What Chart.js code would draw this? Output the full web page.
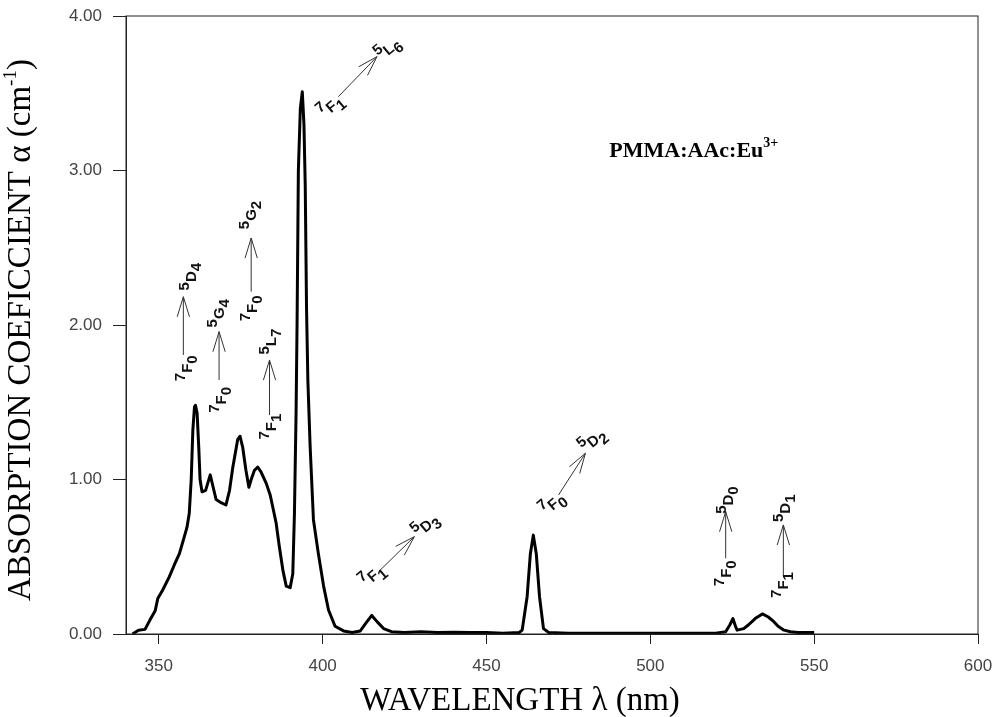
<!DOCTYPE html>
<html>
<head>
<meta charset="utf-8">
<script src="https://cdn.jsdelivr.net/npm/chart.js@4.4.1/dist/chart.umd.min.js"></script>
<style>
  html, body { margin: 0; padding: 0; background: #fff; }
  #chart { display: block; }
</style>
</head>
<body>
<canvas id="chart" width="996" height="717"></canvas>
<script>
// absorption spectrum
const wavelength = [
  342.0, 343.8, 345.8, 347.3, 348.9, 349.7, 351.2, 353.2, 354.8, 356.3,
  357.8, 358.6, 359.3, 359.9, 360.4, 360.9, 361.2, 361.7, 362.2, 362.6,
  363.2, 364.3, 365.7, 366.6, 367.5, 369.0, 370.5, 371.6, 372.6, 374.1,
  374.8, 375.6, 376.6, 377.5, 378.2, 379.2, 380.2, 381.2, 382.8, 384.0,
  384.8, 385.8, 386.8, 387.9, 388.9, 390.1, 390.9, 391.4, 391.9, 392.2,
  392.6, 393.2, 393.8, 394.3, 394.7, 395.1, 395.5, 396.2, 397.2, 398.7,
  400.3, 401.8, 403.8, 406.4, 409.0, 411.5, 413.2, 415.0, 416.6, 418.6,
  421.0, 425.0, 430.0, 435.0, 440.0, 445.0, 450.0, 455.0, 460.0, 460.9,
  462.4, 463.4, 464.3, 465.2, 466.2, 467.4, 469.0, 475.0, 490.0, 505.0,
  520.0, 523.0, 524.3, 525.2, 526.0, 526.5, 528.5, 530.0, 532.0, 534.2,
  536.0, 537.7, 539.0, 540.8, 542.8, 545.0, 550.0
];
const absorption = [
  0.00, 0.025, 0.03, 0.09, 0.15, 0.23, 0.285, 0.37, 0.45, 0.52,
  0.63, 0.69, 0.78, 1.00, 1.32, 1.47, 1.48, 1.43, 1.21, 1.00,
  0.92, 0.93, 1.03, 0.95, 0.87, 0.85, 0.835, 0.93, 1.08, 1.26,
  1.28, 1.21, 1.06, 0.95, 1.00, 1.06, 1.08, 1.05, 0.975, 0.90,
  0.82, 0.72, 0.565, 0.41, 0.31, 0.30, 0.39, 0.78, 1.43, 2.00,
  3.00, 3.40, 3.51, 3.30, 2.90, 2.10, 1.64, 1.21, 0.74, 0.52,
  0.31, 0.155, 0.05, 0.02, 0.01, 0.02, 0.07, 0.12, 0.08, 0.035,
  0.015, 0.01, 0.015, 0.01, 0.012, 0.01, 0.01, 0.005, 0.01, 0.025,
  0.24, 0.52, 0.64, 0.52, 0.24, 0.035, 0.01, 0.005, 0.005, 0.005,
  0.005, 0.015, 0.06, 0.10, 0.05, 0.025, 0.035, 0.06, 0.10, 0.13,
  0.11, 0.08, 0.05, 0.025, 0.015, 0.01, 0.01
];
const xTicks = [350, 400, 450, 500, 550, 600];
const yTicks = [0, 1, 2, 3, 4];

// Eu3+ transitions: [sup, letter, sub] labels, arrow tail/tip and label anchors (data units)
const transitions = [
  { low: ["7", "F", "0"], up: ["5", "D", "4"], tail: [357.5, 1.806], tip: [357.5, 2.183], lowAt: [359.0, 1.720], upAt: [360.1, 2.313], angle: -90 },
  { low: ["7", "F", "0"], up: ["5", "G", "4"], tail: [368.4, 1.644], tip: [368.4, 1.957], lowAt: [369.2, 1.515], upAt: [368.7, 2.076], angle: -90 },
  { low: ["7", "F", "0"], up: ["5", "G", "2"], tail: [378.2, 2.216], tip: [378.2, 2.563], lowAt: [378.7, 2.108], upAt: [378.4, 2.712], angle: -90 },
  { low: ["7", "F", "1"], up: ["5", "L", "7"], tail: [383.8, 1.417], tip: [383.8, 1.773], lowAt: [384.5, 1.342], upAt: [384.5, 1.892], angle: -90 },
  { low: ["7", "F", "1"], up: ["5", "L", "6"], tail: [404.8, 3.478], tip: [416.6, 3.737], lowAt: [402.8, 3.409], upAt: [420.3, 3.780], angle: -40 },
  { low: ["7", "F", "1"], up: ["5", "D", "3"], tail: [417.6, 0.414], tip: [428.0, 0.630], lowAt: [415.5, 0.371], upAt: [431.8, 0.695], angle: -40 },
  { low: ["7", "F", "0"], up: ["5", "D", "2"], tail: [472.0, 0.900], tip: [480.2, 1.170], lowAt: [470.5, 0.835], upAt: [482.7, 1.245], angle: -40 },
  { low: ["7", "F", "0"], up: ["5", "D", "0"], tail: [523.0, 0.490], tip: [523.0, 0.792], lowAt: [523.3, 0.393], upAt: [524.0, 0.867], angle: -90 },
  { low: ["7", "F", "1"], up: ["5", "D", "1"], tail: [540.6, 0.371], tip: [540.6, 0.706], lowAt: [540.8, 0.317], upAt: [541.3, 0.814], angle: -90 }
];

const sansFont = '"Liberation Sans", Arial, sans-serif';
const serifFont = '"Liberation Serif", "Times New Roman", serif';
const labelFont = "bold 15px " + sansFont;

// draw a run of text pieces on one rotated baseline
function drawParts(ctx, px, py, angle, parts, anchor, baseline) {
  ctx.save();
  ctx.translate(px, py);
  ctx.rotate(angle * Math.PI / 180);
  ctx.textAlign = "left";
  ctx.textBaseline = baseline;
  const widths = parts.map(p => { ctx.font = p.font; return ctx.measureText(p.t).width; });
  const total = widths.reduce((a, b) => a + b, 0);
  let pos;
  if (anchor === "center") pos = -total / 2;
  else if (anchor === "left") pos = 0;
  else pos = -widths.slice(0, anchor).reduce((a, b) => a + b, 0) - widths[anchor] / 2;
  parts.forEach((p, i) => {
    ctx.font = p.font;
    ctx.fillText(p.t, pos, p.dy || 0);
    pos += widths[i];
  });
  ctx.restore();
}

function termParts(arr) {
  return [
    { t: arr[0], font: labelFont, dy: -7 },
    { t: arr[1], font: labelFont, dy: 0 },
    { t: arr[2], font: labelFont, dy: 5 }
  ];
}

function drawArrow(ctx, x0, y0, x1, y1) {
  const ang = Math.atan2(y1 - y0, x1 - x0);
  const len = 21, spread = 17 * Math.PI / 180;
  ctx.beginPath();
  ctx.moveTo(x0, y0);
  ctx.lineTo(x1, y1);
  ctx.moveTo(x1 - len * Math.cos(ang - spread), y1 - len * Math.sin(ang - spread));
  ctx.lineTo(x1, y1);
  ctx.lineTo(x1 - len * Math.cos(ang + spread), y1 - len * Math.sin(ang + spread));
  ctx.stroke();
}

const overlay = {
  id: "overlay",
  afterDraw(chart) {
    const { ctx, chartArea: a, scales: { x, y } } = chart;
    ctx.save();
    ctx.strokeStyle = "#222";
    ctx.lineWidth = 1;
    ctx.strokeRect(a.left, a.top, a.right - a.left, a.bottom - a.top);

    ctx.fillStyle = "#111";
    ctx.strokeStyle = "#333";
    transitions.forEach(tr => {
      drawArrow(ctx, x.getPixelForValue(tr.tail[0]), y.getPixelForValue(tr.tail[1]),
        x.getPixelForValue(tr.tip[0]), y.getPixelForValue(tr.tip[1]));
      drawParts(ctx, x.getPixelForValue(tr.lowAt[0]), y.getPixelForValue(tr.lowAt[1]), tr.angle, termParts(tr.low), 1, "middle");
      drawParts(ctx, x.getPixelForValue(tr.upAt[0]), y.getPixelForValue(tr.upAt[1]), tr.angle, termParts(tr.up), 1, "middle");
    });

    // sample name
    ctx.fillStyle = "#000";
    drawParts(ctx, x.getPixelForValue(487.5), y.getPixelForValue(3.087), 0, [
      { t: "PMMA:AAc:Eu", font: "bold 22px " + serifFont },
      { t: "3+", font: "bold 14px " + serifFont, dy: -10 }
    ], "left", "alphabetic");

    // axis titles
    drawParts(ctx, 520, 710, 0, [
      { t: "WAVELENGTH \u03bb (nm)", font: "33px " + serifFont }
    ], "center", "alphabetic");
    drawParts(ctx, 30, 330, -90, [
      { t: "ABSORPTION COEFICCIENT \u03b1 (cm", font: "33px " + serifFont },
      { t: "-1", font: "19px " + serifFont, dy: -14 },
      { t: ")", font: "33px " + serifFont }
    ], "center", "alphabetic");
    ctx.restore();
  }
};

const ctx = document.getElementById("chart").getContext("2d");
new Chart(ctx, {
  type: "line",
  data: {
    datasets: [{
      label: "PMMA:AAc:Eu3+",
      data: wavelength.map((w, i) => ({ x: w, y: absorption[i] })),
      borderColor: "#000",
      borderWidth: 3,
      pointRadius: 0,
      tension: 0,
      fill: false,
      borderJoinStyle: "round"
    }]
  },
  options: {
    responsive: false,
    animation: false,
    layout: { padding: { top: 16, right: 18, left: 0, bottom: 0 } },
    plugins: {
      legend: { display: false },
      tooltip: { enabled: false }
    },
    scales: {
      x: {
        type: "linear",
        min: 340,
        max: 600,
        afterBuildTicks: s => { s.ticks = xTicks.map(v => ({ value: v })); },
        afterFit: s => { s.height = 83; s.paddingLeft = 0; s.paddingRight = 0; },
        ticks: {
          color: "#444",
          font: { family: sansFont, size: 17 },
          padding: 12,
          maxRotation: 0,
          autoSkip: false
        },
        grid: { drawOnChartArea: false, tickLength: 10, tickColor: "#222" },
        border: { color: "#222" }
      },
      y: {
        min: 0,
        max: 4,
        afterBuildTicks: s => { s.ticks = yTicks.map(v => ({ value: v })); },
        afterFit: s => { s.width = 126; s.paddingTop = 0; s.paddingBottom = 0; },
        ticks: {
          color: "#444",
          font: { family: sansFont, size: 17 },
          padding: 11,
          callback: v => v.toFixed(2)
        },
        grid: { drawOnChartArea: false, tickLength: 13, tickColor: "#222" },
        border: { color: "#222" }
      }
    }
  },
  plugins: [overlay]
});
</script>
</body>
</html>
